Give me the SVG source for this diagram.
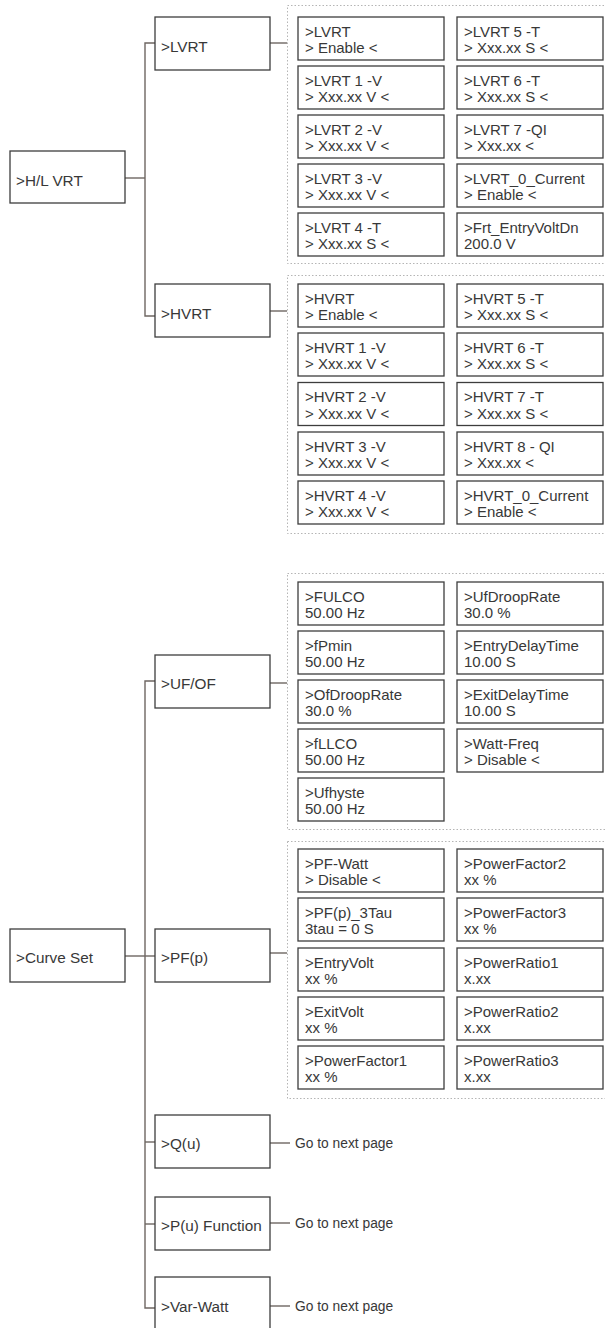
<svg xmlns="http://www.w3.org/2000/svg" width="605" height="1328" viewBox="0 0 605 1328">
<style>
.bg{fill:#ffffff}
.node rect{fill:#ffffff;stroke:#3d3d3d;stroke-width:1.3}
.main text{font-family:"Liberation Sans",Arial,sans-serif;font-size:15.3px;fill:#383838}
.leaf text{font-family:"Liberation Sans",Arial,sans-serif;font-size:15px;fill:#383838}
.grp{fill:none;stroke:#b5b5b5;stroke-width:1;stroke-dasharray:1.5 2}
.conn path{fill:none;stroke:#6e6662;stroke-width:1.4}
.note{font-family:"Liberation Sans",Arial,sans-serif;font-size:13.8px;fill:#383838}
</style>
<rect class="bg" x="0" y="0" width="605" height="1328"/>

<!-- group frames -->
<g id="frames">
<rect class="grp" x="287.5" y="5.5" width="330" height="258"/>
<rect class="grp" x="287.5" y="275.5" width="330" height="258"/>
<rect class="grp" x="287.5" y="573.5" width="330" height="256"/>
<rect class="grp" x="287.5" y="841.5" width="330" height="257"/>
</g>

<!-- connectors -->
<g id="connectors" class="conn">
<path d="M125 178H145"/>
<path d="M155 43H145V316H155"/>
<path d="M270 43H287"/>
<path d="M270 311H287"/>
<path d="M125 956H155"/>
<path d="M155 681H145V1308H155"/>
<path d="M145 1142H155"/>
<path d="M145 1224H155"/>
<path d="M270 683H287"/>
<path d="M270 953H287"/>
<path d="M270 1143H290"/>
<path d="M270 1223H290"/>
<path d="M270 1306H290"/>
</g>

<!-- main nodes -->
<g id="n-hlvrt" class="node main"><rect x="10" y="151" width="115" height="52"/><text x="16" y="185.5">&gt;H/L VRT</text></g>
<g id="n-lvrt" class="node main"><rect x="155" y="17" width="115" height="53"/><text x="161" y="51.5">&gt;LVRT</text></g>
<g id="n-hvrt" class="node main"><rect x="155" y="284" width="115" height="53"/><text x="161" y="319">&gt;HVRT</text></g>
<g id="n-curveset" class="node main"><rect x="10" y="929" width="115" height="53"/><text x="16" y="963">&gt;Curve Set</text></g>
<g id="n-ufof" class="node main"><rect x="155" y="655" width="115" height="53"/><text x="161" y="689">&gt;UF/OF</text></g>
<g id="n-pfp" class="node main"><rect x="155" y="929" width="115" height="53"/><text x="161" y="963">&gt;PF(p)</text></g>
<g id="n-qu" class="node main"><rect x="155" y="1115" width="115" height="53"/><text x="161" y="1149">&gt;Q(u)</text></g>
<g id="n-pu" class="node main"><rect x="155" y="1197" width="115" height="53"/><text x="161" y="1231">&gt;P(u) Function</text></g>
<g id="n-varwatt" class="node main"><rect x="155" y="1277" width="115" height="60"/><text x="161" y="1312">&gt;Var-Watt</text></g>

<!-- go to next page labels -->
<g id="t-next">
<text class="note" x="295" y="1148">Go to next page</text>
<text class="note" x="295" y="1228">Go to next page</text>
<text class="note" x="295" y="1311">Go to next page</text>
</g>

<!-- LVRT leaves -->
<g id="l-lvrt-0" class="node leaf"><rect x="298" y="17" width="146" height="43"/><text x="305" y="36.5">&gt;LVRT</text><text x="305" y="53">&gt; Enable &lt;</text></g>
<g id="l-lvrt-1" class="node leaf"><rect x="298" y="66" width="146" height="43"/><text x="305" y="85.5">&gt;LVRT 1 -V</text><text x="305" y="102">&gt; Xxx.xx V &lt;</text></g>
<g id="l-lvrt-2" class="node leaf"><rect x="298" y="115" width="146" height="43"/><text x="305" y="134.5">&gt;LVRT 2 -V</text><text x="305" y="151">&gt; Xxx.xx V &lt;</text></g>
<g id="l-lvrt-3" class="node leaf"><rect x="298" y="164" width="146" height="43"/><text x="305" y="183.5">&gt;LVRT 3 -V</text><text x="305" y="200">&gt; Xxx.xx V &lt;</text></g>
<g id="l-lvrt-4" class="node leaf"><rect x="298" y="213" width="146" height="43"/><text x="305" y="232.5">&gt;LVRT 4 -T</text><text x="305" y="249">&gt; Xxx.xx S &lt;</text></g>
<g id="l-lvrt-5" class="node leaf"><rect x="457" y="17" width="146" height="43"/><text x="464" y="36.5">&gt;LVRT 5 -T</text><text x="464" y="53">&gt; Xxx.xx S &lt;</text></g>
<g id="l-lvrt-6" class="node leaf"><rect x="457" y="66" width="146" height="43"/><text x="464" y="85.5">&gt;LVRT 6 -T</text><text x="464" y="102">&gt; Xxx.xx S &lt;</text></g>
<g id="l-lvrt-7" class="node leaf"><rect x="457" y="115" width="146" height="43"/><text x="464" y="134.5">&gt;LVRT 7 -QI</text><text x="464" y="151">&gt; Xxx.xx &lt;</text></g>
<g id="l-lvrt-8" class="node leaf"><rect x="457" y="164" width="146" height="43"/><text x="464" y="183.5">&gt;LVRT_0_Current</text><text x="464" y="200">&gt; Enable &lt;</text></g>
<g id="l-lvrt-9" class="node leaf"><rect x="457" y="213" width="146" height="43"/><text x="464" y="232.5">&gt;Frt_EntryVoltDn</text><text x="464" y="249">200.0 V</text></g>

<!-- HVRT leaves -->
<g id="l-hvrt-0" class="node leaf"><rect x="298" y="284" width="146" height="43"/><text x="305" y="303.5">&gt;HVRT</text><text x="305" y="320">&gt; Enable &lt;</text></g>
<g id="l-hvrt-1" class="node leaf"><rect x="298" y="333" width="146" height="43"/><text x="305" y="352.5">&gt;HVRT 1 -V</text><text x="305" y="369">&gt; Xxx.xx V &lt;</text></g>
<g id="l-hvrt-2" class="node leaf"><rect x="298" y="382.5" width="146" height="43"/><text x="305" y="402">&gt;HVRT 2 -V</text><text x="305" y="418.5">&gt; Xxx.xx V &lt;</text></g>
<g id="l-hvrt-3" class="node leaf"><rect x="298" y="432" width="146" height="43"/><text x="305" y="451.5">&gt;HVRT 3 -V</text><text x="305" y="468">&gt; Xxx.xx V &lt;</text></g>
<g id="l-hvrt-4" class="node leaf"><rect x="298" y="481" width="146" height="43"/><text x="305" y="500.5">&gt;HVRT 4 -V</text><text x="305" y="517">&gt; Xxx.xx V &lt;</text></g>
<g id="l-hvrt-5" class="node leaf"><rect x="457" y="284" width="146" height="43"/><text x="464" y="303.5">&gt;HVRT 5 -T</text><text x="464" y="320">&gt; Xxx.xx S &lt;</text></g>
<g id="l-hvrt-6" class="node leaf"><rect x="457" y="333" width="146" height="43"/><text x="464" y="352.5">&gt;HVRT 6 -T</text><text x="464" y="369">&gt; Xxx.xx S &lt;</text></g>
<g id="l-hvrt-7" class="node leaf"><rect x="457" y="382.5" width="146" height="43"/><text x="464" y="402">&gt;HVRT 7 -T</text><text x="464" y="418.5">&gt; Xxx.xx S &lt;</text></g>
<g id="l-hvrt-8" class="node leaf"><rect x="457" y="432" width="146" height="43"/><text x="464" y="451.5">&gt;HVRT 8 - QI</text><text x="464" y="468">&gt; Xxx.xx &lt;</text></g>
<g id="l-hvrt-9" class="node leaf"><rect x="457" y="481" width="146" height="43"/><text x="464" y="500.5">&gt;HVRT_0_Current</text><text x="464" y="517">&gt; Enable &lt;</text></g>

<!-- UF/OF leaves -->
<g id="l-uf-0" class="node leaf"><rect x="298" y="582" width="146" height="43"/><text x="305" y="601.5">&gt;FULCO</text><text x="305" y="618">50.00 Hz</text></g>
<g id="l-uf-1" class="node leaf"><rect x="298" y="631" width="146" height="43"/><text x="305" y="650.5">&gt;fPmin</text><text x="305" y="667">50.00 Hz</text></g>
<g id="l-uf-2" class="node leaf"><rect x="298" y="680" width="146" height="43"/><text x="305" y="699.5">&gt;OfDroopRate</text><text x="305" y="716">30.0 %</text></g>
<g id="l-uf-3" class="node leaf"><rect x="298" y="729" width="146" height="43"/><text x="305" y="748.5">&gt;fLLCO</text><text x="305" y="765">50.00 Hz</text></g>
<g id="l-uf-4" class="node leaf"><rect x="298" y="778" width="146" height="43"/><text x="305" y="797.5">&gt;Ufhyste</text><text x="305" y="814">50.00 Hz</text></g>
<g id="l-uf-5" class="node leaf"><rect x="457" y="582" width="146" height="43"/><text x="464" y="601.5">&gt;UfDroopRate</text><text x="464" y="618">30.0 %</text></g>
<g id="l-uf-6" class="node leaf"><rect x="457" y="631" width="146" height="43"/><text x="464" y="650.5">&gt;EntryDelayTime</text><text x="464" y="667">10.00 S</text></g>
<g id="l-uf-7" class="node leaf"><rect x="457" y="680" width="146" height="43"/><text x="464" y="699.5">&gt;ExitDelayTime</text><text x="464" y="716">10.00 S</text></g>
<g id="l-uf-8" class="node leaf"><rect x="457" y="729" width="146" height="43"/><text x="464" y="748.5">&gt;Watt-Freq</text><text x="464" y="765">&gt; Disable &lt;</text></g>

<!-- PF(p) leaves -->
<g id="l-pf-0" class="node leaf"><rect x="298" y="849" width="146" height="43"/><text x="305" y="868.5">&gt;PF-Watt</text><text x="305" y="885">&gt; Disable &lt;</text></g>
<g id="l-pf-1" class="node leaf"><rect x="298" y="898" width="146" height="43"/><text x="305" y="917.5">&gt;PF(p)_3Tau</text><text x="305" y="934">3tau = 0 S</text></g>
<g id="l-pf-2" class="node leaf"><rect x="298" y="948" width="146" height="43"/><text x="305" y="967.5">&gt;EntryVolt</text><text x="305" y="984">xx %</text></g>
<g id="l-pf-3" class="node leaf"><rect x="298" y="997" width="146" height="43"/><text x="305" y="1016.5">&gt;ExitVolt</text><text x="305" y="1033">xx %</text></g>
<g id="l-pf-4" class="node leaf"><rect x="298" y="1046" width="146" height="43"/><text x="305" y="1065.5">&gt;PowerFactor1</text><text x="305" y="1082">xx %</text></g>
<g id="l-pf-5" class="node leaf"><rect x="457" y="849" width="146" height="43"/><text x="464" y="868.5">&gt;PowerFactor2</text><text x="464" y="885">xx %</text></g>
<g id="l-pf-6" class="node leaf"><rect x="457" y="898" width="146" height="43"/><text x="464" y="917.5">&gt;PowerFactor3</text><text x="464" y="934">xx %</text></g>
<g id="l-pf-7" class="node leaf"><rect x="457" y="948" width="146" height="43"/><text x="464" y="967.5">&gt;PowerRatio1</text><text x="464" y="984">x.xx</text></g>
<g id="l-pf-8" class="node leaf"><rect x="457" y="997" width="146" height="43"/><text x="464" y="1016.5">&gt;PowerRatio2</text><text x="464" y="1033">x.xx</text></g>
<g id="l-pf-9" class="node leaf"><rect x="457" y="1046" width="146" height="43"/><text x="464" y="1065.5">&gt;PowerRatio3</text><text x="464" y="1082">x.xx</text></g>
</svg>
